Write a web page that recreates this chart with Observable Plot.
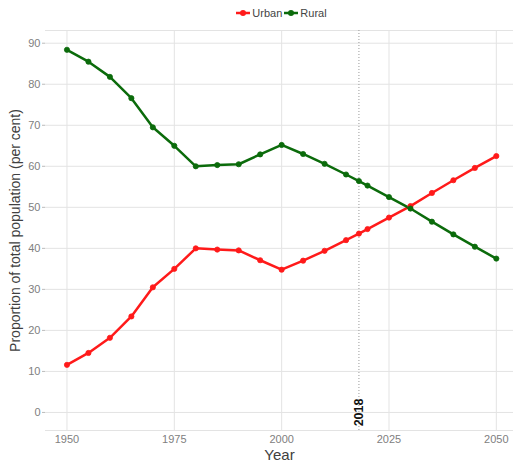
<!DOCTYPE html>
<html><head><meta charset="utf-8">
<script src="https://cdn.jsdelivr.net/npm/d3@7"></script>
<script src="https://cdn.jsdelivr.net/npm/@observablehq/plot@0.6"></script>
<style>
body{margin:0;background:#fff;font-family:"Liberation Sans",Arial,sans-serif;}
#legend{height:24px;display:flex;justify-content:center;align-items:center;font-size:11px;color:#444;padding-left:50px;padding-top:2px;box-sizing:border-box;gap:2px}
#legend span{display:inline-flex;align-items:center;gap:2px}
</style></head><body>
<div id="legend"></div>
<div id="chart"></div>
<script>
const years = [1950,1955,1960,1965,1970,1975,1980,1985,1990,1995,2000,2005,2010,2015,2018,2020,2025,2030,2035,2040,2045,2050];
const urban = [11.6,14.5,18.2,23.4,30.5,35.0,40.0,39.7,39.5,37.1,34.8,37.0,39.4,42.0,43.6,44.7,47.5,50.3,53.5,56.6,59.6,62.5];
const rural = [88.4,85.5,81.8,76.6,69.5,65.0,60.0,60.3,60.5,62.9,65.2,63.0,60.6,58.0,56.4,55.3,52.5,49.7,46.5,43.4,40.4,37.5];
const seriesNames = ["Urban","Rural"];
const seriesColors = ["#ff1a1a","#0b6b0b"];
const xTicks = [1950,1975,2000,2025,2050];
const yTicks = [0,10,20,30,40,50,60,70,80,90];
const markerYear = 2018;
const markerLabel = "2018";

const rows = years.flatMap((yr,i)=>[
  {year:yr, value:urban[i], series:"Urban"},
  {year:yr, value:rural[i], series:"Rural"}
]);

const leg = document.getElementById("legend");
seriesNames.forEach((n,i)=>{
  const s = document.createElement("span");
  s.innerHTML = `<svg width="14" height="8"><line x1="0" y1="4" x2="14" y2="4" stroke="${seriesColors[i]}" stroke-width="2.5"/><circle cx="7" cy="4" r="3" fill="${seriesColors[i]}"/></svg>${n}`;
  leg.appendChild(s);
});

const yDom = [-4.4, 93.1];
const chart = Plot.plot({
  width:513, height:441,
  marginLeft:45, marginRight:0, marginTop:6, marginBottom:35,
  style:{fontFamily:"Liberation Sans, Arial, sans-serif", fontSize:"11px", color:"#808080", background:"#fff"},
  x:{domain:[1945,2054], ticks:xTicks, tickFormat:d=>String(d), tickSize:0, tickPadding:5, label:null},
  y:{domain:yDom, ticks:yTicks, tickSize:3, tickPadding:2, label:null},
  color:{domain:seriesNames, range:seriesColors},
  marks:[
    Plot.gridX(xTicks,{stroke:"#e3e3e3", strokeOpacity:1}),
    Plot.gridY(yTicks,{stroke:"#e3e3e3", strokeOpacity:1}),
    Plot.ruleY([yDom[0], yDom[1]],{stroke:"#e3e3e3"}),
    Plot.ruleX([markerYear],{stroke:"#999", strokeDasharray:"1,2", strokeWidth:1}),
    Plot.axisY(yTicks,{tickSize:3, stroke:"#bbb", tickPadding:2, label:null, fill:"#808080"}),
    Plot.line(rows,{x:"year", y:"value", z:"series", stroke:"series", strokeWidth:2.5}),
    Plot.dot(rows,{x:"year", y:"value", fill:"series", stroke:"series", r:2.6, strokeWidth:0.8}),
    Plot.text([markerLabel],{x:markerYear, y:0, text:d=>d, rotate:-90, fontWeight:"bold", fontSize:12.5, fill:"#111", textAnchor:"middle"}),
    Plot.text(["Year"],{frameAnchor:"bottom", dy:25, lineAnchor:"middle", text:d=>d, fontSize:15, fill:"#404040"}),
    Plot.text(["Proportion of total population (per cent)"],{frameAnchor:"left", dx:-30, rotate:-90, textAnchor:"middle", lineAnchor:"middle", text:d=>d, fontSize:14, fill:"#404040"})
  ]
});
document.getElementById("chart").appendChild(chart);
</script>
</body></html>
